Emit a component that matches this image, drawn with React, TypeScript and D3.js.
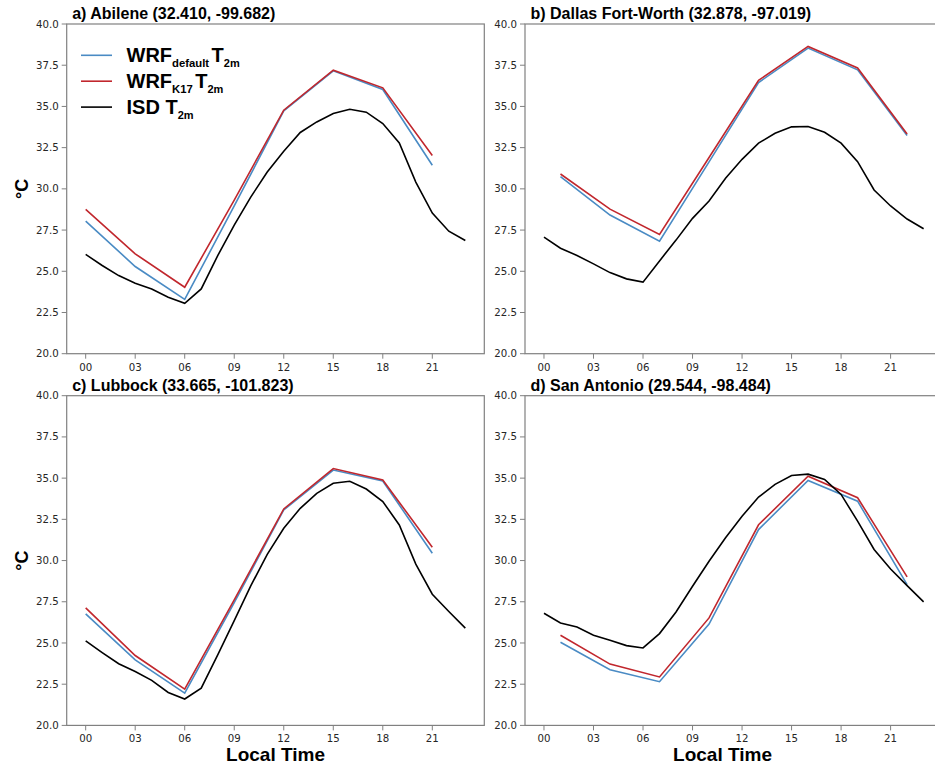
import React from 'react'
import * as d3 from 'd3'

// hours of the day
const isdHours = [0, 1, 2, 3, 4, 5, 6, 7, 8, 9, 10, 11, 12, 13, 14, 15, 16, 17, 18, 19, 20, 21, 22, 23]
const wrfHoursAC = [0, 3, 6, 9, 12, 15, 18, 21]
const wrfHoursBD = [1, 4, 7, 10, 13, 16, 19, 22]

const xTicks = [0, 3, 6, 9, 12, 15, 18, 21]
const xTickLabels = ['00', '03', '06', '09', '12', '15', '18', '21']
const yTicks = [20, 22.5, 25, 27.5, 30, 32.5, 35, 37.5, 40]

// a) Abilene
const abileneDefault = [28.04, 25.29, 23.3, 28.96, 34.73, 37.16, 36.03, 31.43]
const abileneK17 = [28.75, 26.06, 24.03, 29.32, 34.77, 37.2, 36.13, 32.02]
const abileneIsd = [26.02, 25.35, 24.74, 24.27, 23.93, 23.42, 23.06, 23.93, 25.95, 27.8, 29.5, 31.02,
  32.28, 33.42, 34.06, 34.57, 34.83, 34.65, 33.96, 32.79, 30.41, 28.53, 27.43, 26.87]

// b) Dallas Fort-Worth
const dallasDefault = [30.74, 28.41, 26.83, 31.64, 36.45, 38.54, 37.22, 33.23]
const dallasK17 = [30.9, 28.77, 27.23, 31.9, 36.58, 38.64, 37.33, 33.33]
const dallasIsd = [27.07, 26.4, 25.96, 25.45, 24.92, 24.54, 24.34, 25.63, 26.89, 28.21, 29.26, 30.64,
  31.79, 32.77, 33.37, 33.76, 33.78, 33.43, 32.77, 31.65, 29.93, 28.96, 28.17, 27.58]

// c) Lubbock
const lubbockDefault = [26.77, 23.98, 21.96, 27.45, 33.07, 35.49, 34.83, 30.44]
const lubbockK17 = [27.13, 24.24, 22.2, 27.62, 33.13, 35.58, 34.89, 30.81]
const lubbockIsd = [25.13, 24.42, 23.74, 23.27, 22.73, 22.0, 21.6, 22.26, 24.28, 26.36, 28.46, 30.38,
  31.96, 33.17, 34.08, 34.69, 34.81, 34.34, 33.58, 32.16, 29.78, 27.96, 26.91, 25.9]

// d) San Antonio
const sanAntonioDefault = [25.04, 23.38, 22.65, 26.15, 31.88, 34.86, 33.6, 28.54]
const sanAntonioK17 = [25.47, 23.72, 22.94, 26.52, 32.17, 35.12, 33.81, 29.01]
const sanAntonioIsd = [26.8, 26.21, 25.97, 25.47, 25.16, 24.84, 24.7, 25.57, 26.88, 28.44, 29.96, 31.38,
  32.69, 33.85, 34.62, 35.16, 35.24, 34.92, 34.01, 32.39, 30.67, 29.49, 28.48, 27.49]

const panelTitles = [
  'a) Abilene (32.410, -99.682)',
  'b) Dallas Fort-Worth (32.878, -97.019)',
  'c) Lubbock (33.665, -101.823)',
  'd) San Antonio (29.544, -98.484)',
]

const BLUE = '#4a8bc4'
const RED = '#c1272d'
const BLACK = '#000000'
const SPINE = '#808080'
const TICK_TEXT = '#262626'
const ARIAL = "'Liberation Sans', Arial, sans-serif"

const W = 417.6
const H = 329.7
const LEFTS = [66.7, 525]
const TOPS = [24, 395.7]

const panels = [
  { title: panelTitles[0], wrfHours: wrfHoursAC, def: abileneDefault, k17: abileneK17, isd: abileneIsd, col: 0, row: 0 },
  { title: panelTitles[1], wrfHours: wrfHoursBD, def: dallasDefault, k17: dallasK17, isd: dallasIsd, col: 1, row: 0 },
  { title: panelTitles[2], wrfHours: wrfHoursAC, def: lubbockDefault, k17: lubbockK17, isd: lubbockIsd, col: 0, row: 1 },
  { title: panelTitles[3], wrfHours: wrfHoursBD, def: sanAntonioDefault, k17: sanAntonioK17, isd: sanAntonioIsd, col: 1, row: 1 },
]

const xScale = d3.scaleLinear().domain([-1.15, 24.15]).range([0, W])
const yScale = d3.scaleLinear().domain([20, 40]).range([H, 0])

const lineGen = d3.line<[number, number]>()
  .x(d => xScale(d[0]))
  .y(d => yScale(d[1]))

const Panel = ({ p }: { p: typeof panels[0] }) => {
  const left = LEFTS[p.col]
  const top = TOPS[p.row]
  const defPath = lineGen(p.wrfHours.map((h, i) => [h, p.def[i]]))
  const k17Path = lineGen(p.wrfHours.map((h, i) => [h, p.k17[i]]))
  const isdPath = lineGen(isdHours.map((h, i) => [h, p.isd[i]]))

  return (
    <g transform={`translate(${left},${top})`}>
      <path d={defPath!} fill="none" stroke={BLUE} strokeWidth={1.6} />
      <path d={k17Path!} fill="none" stroke={RED} strokeWidth={1.6} />
      <path d={isdPath!} fill="none" stroke={BLACK} strokeWidth={1.6} />

      <rect x={0} y={0} width={W} height={H} fill="none" stroke={SPINE} strokeWidth={1.2} />

      {yTicks.map(t => (
        <g key={t} transform={`translate(0,${yScale(t)})`}>
          <line x1={-5} x2={0} stroke={SPINE} strokeWidth={1} />
          <text x={-8} dy="0.35em" textAnchor="end" fontSize={10.2}
            fontFamily="'DejaVu Sans', sans-serif" fill={TICK_TEXT}>{t.toFixed(1)}</text>
        </g>
      ))}
      {xTicks.map((t, i) => (
        <g key={t} transform={`translate(${xScale(t)},${H})`}>
          <line y1={0} y2={5} stroke={SPINE} strokeWidth={1} />
          <text y={17} textAnchor="middle" fontSize={10.2}
            fontFamily="'DejaVu Sans', sans-serif" fill={TICK_TEXT}>{xTickLabels[i]}</text>
        </g>
      ))}

      <text x={5.5} y={-5} fontSize={16} fontWeight="bold" fontFamily={ARIAL} fill="#000">{p.title}</text>
    </g>
  )
}

const legendItems = [
  { color: BLUE, main: 'WRF', sub: 'default' },
  { color: RED, main: 'WRF', sub: 'K17' },
  { color: BLACK, main: 'ISD', sub: '' },
]

const Legend = () => (
  <g fontFamily={ARIAL} fontWeight="bold">
    {legendItems.map((it, i) => {
      const y = 55.3 + i * 25.9
      return (
        <g key={i}>
          <line x1={81} x2={112} y1={y} y2={y} stroke={it.color} strokeWidth={1.6} />
          <text x={126.5} y={y + 6.5} fontSize={20} fill="#000">
            {it.main}
            {it.sub
              ? <>
                  <tspan fontSize={11.3} dy={5}>{it.sub}</tspan>
                  <tspan dx={2.5} dy={-5}>T</tspan>
                </>
              : <tspan> T</tspan>}
            <tspan fontSize={11} dy={5.5}>2m</tspan>
          </text>
        </g>
      )
    })}
  </g>
)

export default function App() {
  return (
    <div style={{ position: 'absolute', left: 0, top: 0 }}>
      <svg width={935} height={766} style={{ display: 'block', background: '#fff' }}>
        {panels.map(p => <Panel key={p.title} p={p} />)}
        <Legend />
        {TOPS.map(t => (
          <text key={t} transform={`translate(28,${t + H / 2}) rotate(-90)`} textAnchor="middle"
            fontSize={18} fontWeight="bold" fontFamily={ARIAL}>°C</text>
        ))}
        <text x={275.5} y={761} textAnchor="middle" fontSize={19} fontWeight="bold" fontFamily={ARIAL}>Local Time</text>
        <text x={722.5} y={761} textAnchor="middle" fontSize={19} fontWeight="bold" fontFamily={ARIAL}>Local Time</text>
      </svg>
    </div>
  )
}
